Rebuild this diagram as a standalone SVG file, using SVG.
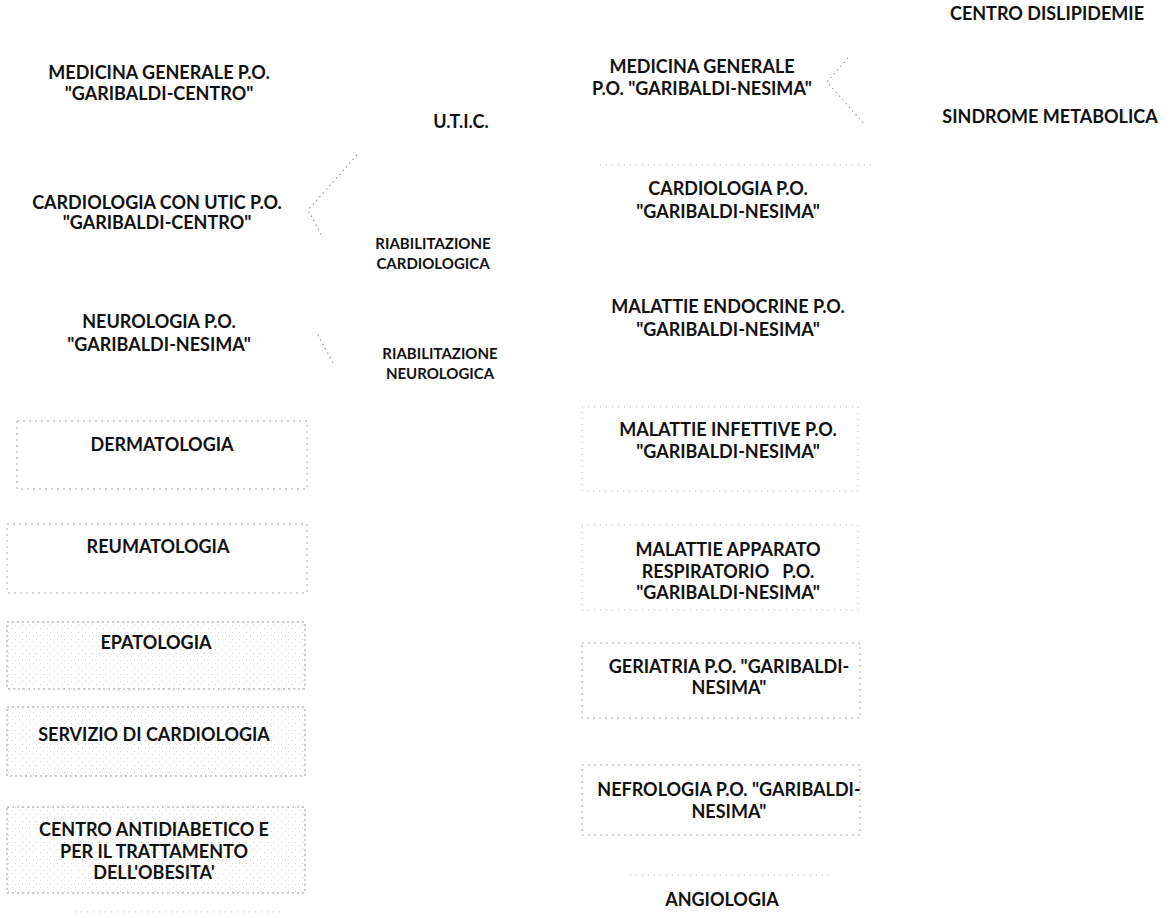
<svg xmlns="http://www.w3.org/2000/svg" width="1167" height="918" viewBox="0 0 1167 918">
<style>
text{font-family:Lato,"Liberation Sans",Arial,sans-serif;font-weight:700;fill:#111;text-anchor:middle;white-space:pre}
.t{font-size:18px}
.s{font-size:15px}
.box{fill:none;stroke:#aaa;stroke-width:1;stroke-dasharray:2 4}
.faint{fill:none;stroke:#bbb;stroke-width:1;stroke-dasharray:1 5}
.dot{fill:url(#stip);stroke:#999;stroke-width:1;stroke-dasharray:2 3}
.con{fill:none;stroke:#999;stroke-width:1.2;stroke-dasharray:1.5 3.5}
</style>
<defs>
<pattern id="stip" width="7" height="7" patternUnits="userSpaceOnUse">
<rect width="7" height="7" fill="#fff"/>
<rect x="1" y="2" width="1" height="1" fill="#d4d4d4"/>
<rect x="5" y="5" width="1" height="1" fill="#dadada"/>
</pattern>
</defs>
<rect width="1167" height="918" fill="#fff"/>

<g id="connectors">
<path class="con" d="M357,155 L308,210 L323,238"/>
<path class="con" d="M318,335 L333,363"/>
<path class="con" d="M848,58 L827,82 L865,125"/>
</g>

<g id="centro-dislipidemie"><text class="t" x="1047" y="20">CENTRO DISLIPIDEMIE</text></g>
<g id="sindrome-metabolica"><text class="t" x="1050" y="123">SINDROME METABOLICA</text></g>

<g id="medgen-centro"><text class="t" x="159" y="79">MEDICINA GENERALE P.O.</text><text class="t" x="159" y="100">"GARIBALDI-CENTRO"</text></g>
<g id="utic"><text class="t" x="461" y="128">U.T.I.C.</text></g>
<g id="cardio-utic"><text class="t" x="157" y="209">CARDIOLOGIA CON UTIC P.O.</text><text class="t" x="157" y="229">"GARIBALDI-CENTRO"</text></g>
<g id="riab-cardio"><text class="s" x="433" y="249">RIABILITAZIONE</text><text class="s" x="433" y="269">CARDIOLOGICA</text></g>
<g id="neuro"><text class="t" x="159" y="328">NEUROLOGIA P.O.</text><text class="t" x="159" y="351">"GARIBALDI-NESIMA"</text></g>
<g id="riab-neuro"><text class="s" x="440" y="359">RIABILITAZIONE</text><text class="s" x="440" y="379">NEUROLOGICA</text></g>

<g id="dermatologia"><rect class="box" x="17" y="421" width="290" height="68"/><text class="t" x="162" y="451">DERMATOLOGIA</text></g>
<g id="reumatologia"><rect class="box" x="7" y="524" width="300" height="69"/><text class="t" x="158" y="553">REUMATOLOGIA</text></g>
<g id="epatologia"><rect class="dot" x="7" y="622" width="298" height="67"/><text class="t" x="156" y="649">EPATOLOGIA</text></g>
<g id="servizio-cardio"><rect class="dot" x="7" y="707" width="298" height="69"/><text class="t" x="154" y="741">SERVIZIO DI CARDIOLOGIA</text></g>
<g id="antidiabetico"><rect class="dot" x="7" y="807" width="298" height="86"/><text class="t" x="154" y="836">CENTRO ANTIDIABETICO E</text><text class="t" x="154" y="858">PER IL TRATTAMENTO</text><text class="t" x="154" y="879">DELL'OBESITA'</text><path class="faint" d="M75,912 H285"/></g>

<g id="medgen-nesima"><text class="t" x="702" y="73">MEDICINA GENERALE</text><text class="t" x="702" y="95">P.O. "GARIBALDI-NESIMA"</text></g>
<g id="cardio-nesima"><path class="faint" d="M600,165 H872"/><text class="t" x="728" y="195">CARDIOLOGIA P.O.</text><text class="t" x="728" y="218">"GARIBALDI-NESIMA"</text></g>
<g id="endocrine"><text class="t" x="728" y="313">MALATTIE ENDOCRINE P.O.</text><text class="t" x="728" y="336">"GARIBALDI-NESIMA"</text></g>
<g id="infettive"><rect class="faint" x="582" y="407" width="276" height="84"/><text class="t" x="728" y="436">MALATTIE INFETTIVE P.O.</text><text class="t" x="728" y="458">"GARIBALDI-NESIMA"</text></g>
<g id="respiratorio"><rect class="faint" x="582" y="525" width="276" height="85"/><text class="t" x="728" y="556">MALATTIE APPARATO</text><text class="t" x="728" y="578">RESPIRATORIO   P.O.</text><text class="t" x="728" y="599">"GARIBALDI-NESIMA"</text></g>
<g id="geriatria"><rect class="box" x="582" y="643" width="278" height="75"/><text class="t" x="729" y="673">GERIATRIA P.O. "GARIBALDI-</text><text class="t" x="729" y="694">NESIMA"</text></g>
<g id="nefrologia"><rect class="box" x="582" y="765" width="278" height="70"/><text class="t" x="729" y="796">NEFROLOGIA P.O. "GARIBALDI-</text><text class="t" x="729" y="818">NESIMA"</text></g>
<g id="angiologia"><path class="faint" d="M630,875 H830"/><text class="t" x="722" y="906">ANGIOLOGIA</text></g>
</svg>
